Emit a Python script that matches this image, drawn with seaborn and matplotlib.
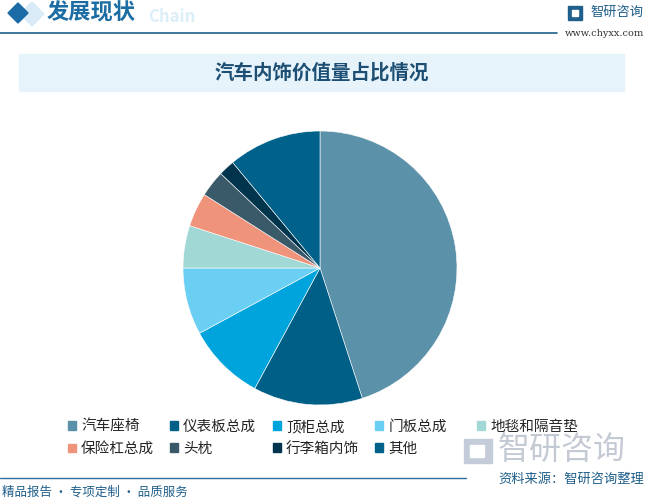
import matplotlib
matplotlib.use('Agg')
import matplotlib.pyplot as plt
import matplotlib.patches as mpatches
import seaborn as sns

# 数据
categories = ['汽车座椅', '仪表板总成', '顶柜总成', '门板总成', '地毯和隔音垫',
              '保险杠总成', '头枕', '行李箱内饰', '其他']
shares = [45.0, 12.9, 9.2, 7.9, 5.0, 4.0, 3.1, 1.9, 11.0]
colors = ['#5B91A9', '#005F87', '#00A4DC', '#6BCFF4', '#A1D8D6',
          '#EF937B', '#3A5A69', '#00354D', '#00628A']

title = '汽车内饰价值量占比情况'
header = '发展现状'
source = '资料来源：智研咨询整理'
slogan = '精品报告 · 专项定制 · 品质服务'

sns.set_theme(style='white')
plt.rcParams['font.family'] = ['Noto Sans CJK SC', 'DejaVu Sans']

W, H = 646, 501
fig = plt.figure(figsize=(W / 100, H / 100), dpi=100)
fig.patch.set_facecolor('white')


def fx(x):
    return x / W


def fy(y):
    return 1 - y / H


def diamond(cx, cy, r, color):
    pts = [(fx(cx), fy(cy - r)), (fx(cx + r), fy(cy)), (fx(cx), fy(cy + r)), (fx(cx - r), fy(cy))]
    fig.patches.append(mpatches.Polygon(pts, closed=True, transform=fig.transFigure, color=color))


# 顶部标题栏
diamond(32, 14, 12, '#D9EBF6')
diamond(18, 13, 10, '#1A6BA6')
fig.text(fx(148), fy(17), 'Chain', fontsize=12, fontweight='bold', color='#DCEEF8',
         va='center', ha='left')
fig.text(fx(47), fy(13), header, fontsize=16, fontweight='bold', color='#1C6DA3',
         va='center', ha='left')
fig.lines.append(plt.Line2D([0, fx(557)], [fy(33), fy(33)], transform=fig.transFigure,
                            color='#1F5F8B', lw=1.2))

# 右上角 logo
fig.patches.append(mpatches.Rectangle((fx(568), fy(20)), fx(14), 14 / H,
                                      transform=fig.transFigure, color='#1F5F8B'))
fig.patches.append(mpatches.Rectangle((fx(572), fy(16)), fx(6), 6 / H,
                                      transform=fig.transFigure, color='white'))
fig.text(fx(643), fy(12), '智研咨询', fontsize=9.5, color='#1F5F8B', va='center', ha='right')
fig.text(fx(644), fy(34), 'www.chyxx.com', fontsize=7, color='#333333', family='DejaVu Serif',
         va='center', ha='right')

# 标题横幅
fig.patches.append(mpatches.Rectangle((fx(19), fy(91)), fx(605), 37 / H,
                                      transform=fig.transFigure, color='#E6F3FB'))
fig.text(fx(322), fy(73), title, fontsize=14, fontweight='bold', color='#1C4F73',
         va='center', ha='center')

# 水印
fig.patches.append(mpatches.Rectangle((fx(464), fy(463)), fx(28), 24 / H,
                                      transform=fig.transFigure, color='#C3CCD8'))
fig.patches.append(mpatches.Rectangle((fx(470), fy(457)), fx(14), 12 / H,
                                      transform=fig.transFigure, color='white'))
fig.text(fx(498), fy(450), '智研咨询', fontsize=23, color='#C3CAD4', va='center', ha='left')

# 饼图
ax = fig.add_axes([fx(320 - 137), fy(268 + 137), fx(274), 274 / H])
ax.pie(shares, colors=colors, startangle=90, counterclock=False,
       wedgeprops=dict(linewidth=0.4, edgecolor='white'))
ax.set_aspect('equal')
ax.set_xlim(-1.0, 1.0)
ax.set_ylim(-1.0, 1.0)
ax.axis('off')

# 图例（五列，等距）
col_x = [68, 170, 273, 375, 477]
for j, x in enumerate(col_x):
    idx = [i for i in (j, j + 5) if i < len(categories)]
    handles = [mpatches.Patch(color=colors[i], label=categories[i]) for i in idx]
    fig.legend(handles=handles, loc='upper left', bbox_to_anchor=(fx(x), fy(420)),
               frameon=False, fontsize=10.5, handlelength=0.55, handleheight=0.55,
               handletextpad=0.35, labelspacing=0.55, borderpad=0, borderaxespad=0)

# 底部
fig.lines.append(plt.Line2D([0, fx(466)], [fy(478), fy(478)], transform=fig.transFigure,
                            color='#2F6E9B', lw=1))
fig.text(fx(644), fy(479), source, fontsize=9.5, color='#1F5F8B', va='center', ha='right')
fig.text(fx(2), fy(492), slogan, fontsize=9, color='#1F5F8B', va='center', ha='left')

fig.savefig('out.png', dpi=100)
